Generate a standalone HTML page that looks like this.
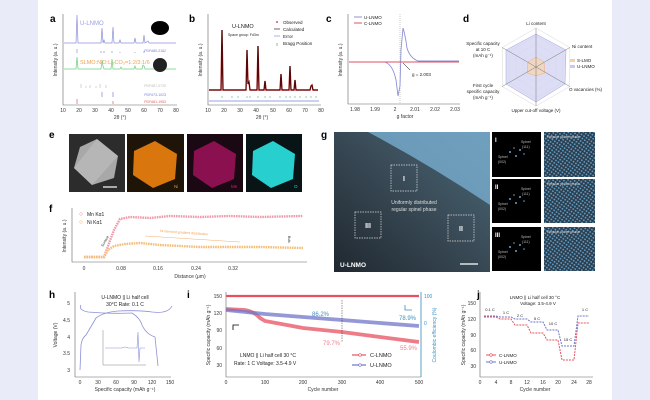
<!DOCTYPE html>
<html><head><meta charset="utf-8"><style>
body{margin:0;background:#e9ebf9;}
svg{display:block;font-family:"Liberation Sans",sans-serif;}
</style></head><body>
<svg width="650" height="400" viewBox="0 0 650 400" xmlns="http://www.w3.org/2000/svg">
<rect x="0" y="0" width="650" height="400" fill="#e9ebf9"/>
<rect x="38" y="0" width="574" height="400" fill="#fff"/>
<g font-weight="bold" font-size="10" fill="#000">
<text x="50" y="22">a</text><text x="189" y="22">b</text><text x="326" y="22">c</text><text x="463" y="22">d</text>
<text x="49" y="138">e</text><text x="49" y="212">f</text><text x="321" y="138">g</text>
<text x="49" y="298">h</text><text x="187" y="298">i</text><text x="477" y="298">j</text>
</g>
<!-- a -->
<g stroke="#666" stroke-width="0.6" fill="none"><path d="M63,14 V105 H177"/></g>
<g font-size="5" fill="#333" text-anchor="middle">
<text x="63" y="112">10</text><text x="79" y="112">20</text><text x="95" y="112">30</text><text x="111" y="112">40</text><text x="128" y="112">50</text><text x="144" y="112">60</text><text x="160" y="112">70</text><text x="176" y="112">80</text>
<text x="120" y="119">2θ (°)</text>
<text x="57" y="60" transform="rotate(-90 57 60)">Intensity (a. u.)</text>
</g>
<path d="M64,43 H76 L77,15 L78,43 H101 L102,28 L103,43 L104,40 L105,43 H112 L113,27 L114,43 H119 L120,40 L121,43 H134 L135,38 L136,43 H143 L144,35 L145,43 L148,41 L149,43 H176" stroke="#8c90d8" stroke-width="0.7" fill="none"/>
<text x="80" y="25" font-size="6" fill="#9aa0e0">U-LNMO</text>
<path d="M64,69 H76 L77,57 L78,69 H101 L102,60 L103,66 L104,69 H111 L112,59 L113,69 H120 L121,67 L122,69 H134 L135,66 L136,69 H142 L143,65 L144,66 L145,69 H176" stroke="#6cd07c" stroke-width="0.7" fill="none"/>
<text x="80" y="64" font-size="5.5" fill="#f0a050">SLMO:NiO:Li₂CO₃=1:2/3:1/6</text>
<ellipse cx="160" cy="28" rx="9" ry="7" fill="#000"/>
<ellipse cx="160" cy="65" rx="7" ry="7" fill="#222"/>
<g stroke="#7a80d0" stroke-width="0.6"><path d="M77,49V53M101,51V53M104,51V53M112,51V53M120,52V53M135,52V53M144,51V53"/></g>
<g stroke="#aaa" stroke-width="0.5"><path d="M81,84V88M86,86V88M90,85V88M96,86V88M100,84V88M106,85V88"/></g>
<g stroke="#7a80d0" stroke-width="0.7"><path d="M102,92V97M113,92V97"/></g>
<g stroke="#e06060" stroke-width="0.7"><path d="M77,99V104M113,101V104"/></g>
<g font-size="3.5" text-anchor="end"><text x="166" y="52" fill="#7a80d0">PDF#80-2162</text><text x="166" y="87" fill="#bbb">PDF#87-0729</text><text x="166" y="96" fill="#7a80d0">PDF#73-1023</text><text x="166" y="103" fill="#e06060">PDF#81-1953</text></g>
<!-- b -->
<g stroke="#666" stroke-width="0.6" fill="none"><path d="M208,14 V105 H321"/></g>
<g font-size="5" fill="#333" text-anchor="middle">
<text x="208" y="112">10</text><text x="224" y="112">20</text><text x="240" y="112">30</text><text x="256" y="112">40</text><text x="273" y="112">50</text><text x="289" y="112">60</text><text x="305" y="112">70</text><text x="321" y="112">80</text>
<text x="262" y="119">2θ (°)</text>
<text x="202" y="60" transform="rotate(-90 202 60)">Intensity (a. u.)</text>
</g>
<path d="M209,90 H221 L222,30 L223,90 H246 L247,50 L248,84 L249,82 L250,90 H257 L258,46 L259,90 H264 L265,81 L266,90 H280 L281,74 L282,90 H289 L290,66 L291,90 H294 L295,80 L296,90 H310 L311,86 L312,85 L313,90 H318" stroke="#b01010" stroke-width="1.4" fill="none"/>
<path d="M209,90 H221 L222,30 L223,90 H246 L247,50 L248,84 L249,82 L250,90 H257 L258,46 L259,90 H264 L265,81 L266,90 H280 L281,74 L282,90 H289 L290,66 L291,90 H294 L295,80 L296,90 H310 L311,86 L312,85 L313,90 H318" stroke="#000" stroke-width="0.5" fill="none"/>
<path d="M209,101 H319" stroke="#7080e0" stroke-width="0.8"/>
<g stroke="#30a040" stroke-width="0.5"><path d="M222,96V98M232,96V98M238,96V98M247,96V98M250,96V98M258,96V98M265,96V98M270,96V98M280,96V98M286,96V98M290,96V98M295,96V98M300,96V98M306,96V98M311,96V98M316,96V98"/></g>
<text x="232" y="28" font-size="5.5" fill="#222">U-LNMO</text>
<text x="228" y="36" font-size="3.5" fill="#222">Space group: Fd3m</text>
<g font-size="4.5" fill="#222"><circle cx="277" cy="22" r="0.9" fill="#d02020"/><text x="283" y="24">Observed</text>
<path d="M274,29H280" stroke="#000" stroke-width="0.6"/><text x="283" y="31">Calculated</text>
<path d="M274,36H280" stroke="#7080e0" stroke-width="0.6"/><text x="283" y="38">Error</text>
<path d="M277,43V46" stroke="#30a040" stroke-width="0.6"/><text x="283" y="45">Bragg Position</text></g>
<!-- c -->
<g stroke="#666" stroke-width="0.6" fill="none"><path d="M348,14 V104 H460"/></g>
<g font-size="5" fill="#333" text-anchor="middle">
<text x="355" y="111">1.98</text><text x="375" y="111">1.99</text><text x="395" y="111">2</text><text x="415" y="111">2.01</text><text x="435" y="111">2.02</text><text x="455" y="111">2.03</text>
<text x="405" y="118">g factor</text>
<text x="342" y="60" transform="rotate(-90 342 60)">Intensity (a. u.)</text>
</g>
<path d="M400,14V104" stroke="#999" stroke-width="0.5" stroke-dasharray="1,1"/>
<path d="M349,62 H385 Q393,65 396,80 L398,96 L400,86 L401,50 L403,28 Q405,34 407,48 Q410,58 418,61 H459" stroke="#8c90d8" stroke-width="0.9" fill="none"/>
<path d="M349,62 H459" stroke="#e05060" stroke-width="0.9"/>
<path d="M403,63 L410,70" stroke="#000" stroke-width="0.5"/>
<text x="412" y="76" font-size="4.5" fill="#222">g = 2.003</text>
<g font-size="4.5" fill="#222"><path d="M354,17H362" stroke="#8c90d8" stroke-width="1"/><text x="364" y="19">U-LNMO</text>
<path d="M354,23H362" stroke="#e05060" stroke-width="1"/><text x="364" y="25">C-LNMO</text></g>
<!-- d radar -->
<g transform="translate(536,67)">
<g fill="none" stroke="#ccc" stroke-width="0.4">
<polygon points="0,-39 33.8,-19.5 33.8,19.5 0,39 -33.8,19.5 -33.8,-19.5"/>
<polygon points="0,-31 26.8,-15.5 26.8,15.5 0,31 -26.8,15.5 -26.8,-15.5"/>
<polygon points="0,-23 19.9,-11.5 19.9,11.5 0,23 -19.9,11.5 -19.9,-11.5"/>
<polygon points="0,-15 13,-7.5 13,7.5 0,15 -13,7.5 -13,-7.5"/>
</g>
<polygon points="0,-33 30,-17 29,17 0,35 -30,17 -30,-17" fill="#d4d6f2" fill-opacity="0.8" stroke="#a0a5dc" stroke-width="0.5"/>
<polygon points="0,-10 8,-5 9,6 0,9 -9,6 -8,-5" fill="#f5d5b5" fill-opacity="0.8" stroke="#f0a060" stroke-width="0.4"/>
<g stroke="#777" stroke-width="0.5"><path d="M0,-39V39M-33.8,-19.5L33.8,19.5M-33.8,19.5L33.8,-19.5"/></g>
</g>
<g font-size="4.5" fill="#222" text-anchor="middle">
<text x="536" y="25">Li content</text>
<text x="572" y="48" text-anchor="start">Ni content</text>
<text x="569" y="91" text-anchor="start">O vacancies (%)</text>
<text x="536" y="112">Upper cut-off voltage (V)</text>
<text x="483" y="45">Specific capacity</text><text x="483" y="51">at 10 C</text><text x="483" y="57">(mAh g⁻¹)</text>
<text x="483" y="87">First cycle</text><text x="483" y="93">specific capacity</text><text x="483" y="99">(mAh g⁻¹)</text>
</g>
<rect x="570" y="59" width="5" height="3" fill="#f5cfa8"/><text x="577" y="62" font-size="4.5" fill="#222">S-LMO</text>
<rect x="570" y="65" width="5" height="3" fill="#c7c9ee"/><text x="577" y="68" font-size="4.5" fill="#222">U-LNMO</text>
<!-- e -->
<rect x="69" y="134" width="56" height="58" fill="#2c2c2c"/>
<polygon points="97,139 118,156 114,178 92,185 74,168 80,147" fill="#a8a8a8"/>
<polygon points="97,139 118,156 92,185 74,168" fill="#c0c0c0" fill-opacity="0.6"/>
<path d="M103,187H117" stroke="#fff" stroke-width="1.2"/>
<rect x="127" y="134" width="57" height="58" fill="#1e1408"/>
<polygon points="155,141 177,154 175,179 153,188 133,175 134,151" fill="#d9760e"/>
<text x="174" y="188" font-size="4.5" fill="#e8902a">Ni</text>
<rect x="187" y="134" width="56" height="58" fill="#1a0812"/>
<polygon points="214,141 236,154 234,179 212,188 193,175 194,151" fill="#8a1050"/>
<text x="231" y="188" font-size="4.5" fill="#d02080">Mn</text>
<rect x="246" y="134" width="56" height="58" fill="#081416"/>
<polygon points="273,141 295,154 293,179 271,188 252,175 253,151" fill="#28cfcf"/>
<text x="294" y="188" font-size="4.5" fill="#20d0d0">O</text>
<!-- f -->
<g stroke="#666" stroke-width="0.6" fill="none"><path d="M72,208 V262 H307"/></g>
<g font-size="5" fill="#333" text-anchor="middle">
<text x="84" y="270">0</text><text x="121" y="270">0.08</text><text x="158" y="270">0.16</text><text x="196" y="270">0.24</text><text x="233" y="270">0.32</text>
<text x="190" y="278">Distance (μm)</text>
<text x="66" y="236" transform="rotate(-90 66 236)">Intensity (a. u.)</text>
</g>
<path d="M84,257 H104 L108,246 L114,230 L120,219 L130,217 L150,218 L170,216 L200,217 L230,216 L260,217 L303,216" stroke="#f09aa8" stroke-width="2.4" fill="none" stroke-dasharray="1.6,0.8"/>
<path d="M84,257 H104 L108,250 L114,246 L125,244 L140,243 L160,245 L180,246 L200,247 L230,247 L260,247 L303,248" stroke="#f5be78" stroke-width="2.4" fill="none" stroke-dasharray="1.6,0.8"/>
<circle cx="81" cy="214" r="1.3" fill="none" stroke="#f09aa8" stroke-width="0.5"/><text x="87" y="216" font-size="5" fill="#222">Mn Kα1</text>
<circle cx="81" cy="222" r="1.3" fill="none" stroke="#f5be78" stroke-width="0.5"/><text x="87" y="224" font-size="5" fill="#222">Ni Kα1</text>
<path d="M145,236 L240,242" stroke="#f0b070" stroke-width="0.6"/>
<text x="160" y="232" font-size="3.5" fill="#f0a050" transform="rotate(4 160 232)">Ni element gradient distribution</text>
<text x="103" y="247" font-size="3.5" fill="#333" transform="rotate(-60 103 247)">Surface</text>
<text x="288" y="236" font-size="3.5" fill="#333" transform="rotate(90 288 236)">Bulk</text>
<!-- g -->
<defs>
<linearGradient id="tem" x1="0" y1="1" x2="1" y2="0"><stop offset="0" stop-color="#202830"/><stop offset="0.55" stop-color="#3a4c58"/><stop offset="1" stop-color="#4a6878"/></linearGradient>
<pattern id="lat" width="3" height="3" patternUnits="userSpaceOnUse" patternTransform="rotate(35)"><rect width="3" height="3" fill="#2a3c4c"/><circle cx="1.5" cy="1.5" r="0.9" fill="#6aa8d0"/></pattern>
</defs>
<rect x="334" y="132" width="156" height="140" fill="url(#tem)"/>
<path d="M368,132 Q430,165 490,205 V132 Z" fill="#78aed0" fill-opacity="0.8"/>
<g fill="none" stroke="#ddd" stroke-width="0.7" stroke-dasharray="1.5,1"><rect x="391" y="165" width="26" height="26"/><rect x="448" y="215" width="26" height="26"/><rect x="355" y="212" width="26" height="26"/></g>
<g font-size="7" font-weight="bold" fill="#fff" text-anchor="middle"><text x="404" y="181">I</text><text x="461" y="231">II</text><text x="368" y="228">III</text></g>
<text x="414" y="204" font-size="5" fill="#ddd" text-anchor="middle">Uniformly distributed</text>
<text x="414" y="211" font-size="5" fill="#ddd" text-anchor="middle">regular spinel phase</text>
<text x="340" y="267" font-size="6.5" font-weight="bold" fill="#fff">U-LNMO</text>
<path d="M460,264H478" stroke="#fff" stroke-width="1.2"/>
<g font-size="3.5" fill="#bbb">
<rect x="492" y="132" width="49" height="45" fill="#000"/><rect x="492" y="179" width="49" height="44" fill="#000"/><rect x="492" y="227" width="49" height="44" fill="#000"/>
<text x="495" y="142" font-size="6" font-weight="bold" fill="#fff">I</text><text x="495" y="189" font-size="6" font-weight="bold" fill="#fff">II</text><text x="495" y="237" font-size="6" font-weight="bold" fill="#fff">III</text>
<text x="521" y="143">Spinel</text><text x="522" y="148">(111)</text><text x="498" y="158">Spinel</text><text x="498" y="163">(002)</text>
<text x="521" y="190">Spinel</text><text x="522" y="195">(111)</text><text x="498" y="205">Spinel</text><text x="498" y="210">(002)</text>
<text x="521" y="238">Spinel</text><text x="522" y="243">(111)</text><text x="498" y="253">Spinel</text><text x="498" y="258">(002)</text>
</g>
<g fill="#6aa0d0"><circle cx="510" cy="152" r="1"/><circle cx="516" cy="156" r="1"/><circle cx="520" cy="150" r="1"/><circle cx="514" cy="148" r="0.8"/><circle cx="524" cy="154" r="0.8"/>
<circle cx="510" cy="199" r="1"/><circle cx="516" cy="203" r="1"/><circle cx="520" cy="197" r="1"/><circle cx="514" cy="195" r="0.8"/><circle cx="524" cy="201" r="0.8"/>
<circle cx="510" cy="247" r="1"/><circle cx="516" cy="251" r="1"/><circle cx="520" cy="245" r="1"/><circle cx="514" cy="243" r="0.8"/><circle cx="524" cy="249" r="0.8"/></g>
<rect x="544" y="132" width="51" height="45" fill="url(#lat)"/><rect x="544" y="179" width="51" height="44" fill="url(#lat)"/><rect x="544" y="227" width="51" height="44" fill="url(#lat)"/>
<g font-size="3.5" fill="#ddd"><text x="547" y="138">Regular spinel phase</text><text x="547" y="185">Regular spinel phase</text><text x="547" y="233">Regular spinel phase</text></g>
<!-- h -->
<g stroke="#666" stroke-width="0.6" fill="none"><path d="M75,292 V377 H171"/></g>
<g font-size="5" fill="#333" text-anchor="middle">
<text x="80" y="384">0</text><text x="98" y="384">30</text><text x="116" y="384">60</text><text x="134" y="384">90</text><text x="152" y="384">120</text><text x="170" y="384">150</text>
<text x="125" y="391">Specific capacity (mAh g⁻¹)</text>
<text x="70" y="372" text-anchor="end">3</text><text x="70" y="355" text-anchor="end">3.5</text><text x="70" y="339" text-anchor="end">4</text><text x="70" y="322" text-anchor="end">4.5</text><text x="70" y="305" text-anchor="end">5</text>
<text x="57" y="335" transform="rotate(-90 57 335)">Voltage (V)</text>
</g>
<path d="M80,370 L81,345 Q82,338 86,335 Q92,325 96,318 Q104,312 118,311 Q140,310 152,312 Q168,314 172,306" stroke="#8c90d8" stroke-width="0.8" fill="none"/>
<path d="M81,305 Q78,310 88,312 Q110,314 132,313 Q140,318 142,325 Q146,334 155,337 L158,366" stroke="#8c90d8" stroke-width="0.8" fill="none"/>
<text x="125" y="299" font-size="5" fill="#222" text-anchor="middle">U-LNMO || Li half cell</text>
<text x="125" y="306" font-size="5" fill="#222" text-anchor="middle">30°C   Rate: 0.1 C</text>
<g stroke="#666" stroke-width="0.4" fill="none"><path d="M103,330V365H146"/></g>
<path d="M105,348H122 Q125,346 128,348 H137 L138,332 L139,362 L140,348 H145" stroke="#8c90d8" stroke-width="0.6" fill="none"/>
<!-- i -->
<g stroke="#666" stroke-width="0.6" fill="none"><path d="M226,292 V377 H421 V292"/></g>
<path d="M421,292V377" stroke="#4aa0d0" stroke-width="0.8"/>
<g font-size="5" fill="#333" text-anchor="middle">
<text x="226" y="384">0</text><text x="265" y="384">100</text><text x="303" y="384">200</text><text x="342" y="384">300</text><text x="380" y="384">400</text><text x="419" y="384">500</text>
<text x="323" y="391">Cycle number</text>
<text x="222" y="298" text-anchor="end">150</text><text x="222" y="315" text-anchor="end">120</text><text x="222" y="332" text-anchor="end">90</text><text x="222" y="350" text-anchor="end">60</text><text x="222" y="367" text-anchor="end">30</text>
<text x="210" y="335" transform="rotate(-90 210 335)">Specific capacity (mAh g⁻¹)</text>
</g>
<g font-size="5" fill="#3a90c0"><text x="424" y="298">100</text><text x="424" y="325">0</text>
<text x="436" y="335" text-anchor="middle" transform="rotate(-90 436 335)">Coulombic efficiency (%)</text></g>
<path d="M226,296H419" stroke="#e85060" stroke-width="2.2"/>
<path d="M226,309 L245,310 Q255,312 260,318 L265,321 L303,328 L342,332 L380,337 L419,342" stroke="#e85060" stroke-opacity="0.75" stroke-width="3.8" fill="none"/>
<path d="M226,310 L265,314 L303,317 L342,320 L380,323 L419,326" stroke="#7076c8" stroke-opacity="0.75" stroke-width="3.8" fill="none"/>
<path d="M342,300V342" stroke="#333" stroke-width="0.5" stroke-dasharray="1.5,1"/>
<g font-size="6"><text x="312" y="316" fill="#3a90c0">86.2%</text><text x="399" y="320" fill="#3a90c0">78.9%</text><text x="323" y="345" fill="#f08090">79.7%</text><text x="400" y="350" fill="#f08090">55.9%</text></g>
<path d="M239,325H233V330" stroke="#000" stroke-width="0.8" fill="none"/>
<path d="M405,305V310H412" stroke="#3a90c0" stroke-width="0.8" fill="none"/>
<g font-size="5" fill="#222"><text x="240" y="357">LNMO || Li half cell   30 °C</text><text x="234" y="365">Rate: 1 C     Voltage: 3.5-4.9 V</text></g>
<path d="M352,355H366" stroke="#e85060" stroke-width="1.2"/><circle cx="360" cy="355" r="1.3" fill="#fff" stroke="#e85060" stroke-width="0.6"/><text x="370" y="357" font-size="5.5" fill="#222">C-LNMO</text>
<path d="M352,365H366" stroke="#7076c8" stroke-width="1.2"/><circle cx="360" cy="365" r="1.3" fill="#fff" stroke="#7076c8" stroke-width="0.6"/><text x="370" y="367" font-size="5.5" fill="#222">U-LNMO</text>
<!-- j -->
<g stroke="#666" stroke-width="0.6" fill="none"><path d="M480,292 V377 H593"/></g>
<g font-size="5" fill="#333" text-anchor="middle">
<text x="480" y="384">0</text><text x="496" y="384">4</text><text x="511" y="384">8</text><text x="527" y="384">12</text><text x="543" y="384">16</text><text x="558" y="384">20</text><text x="574" y="384">24</text><text x="589" y="384">28</text>
<text x="535" y="391">Cycle number</text>
<text x="476" y="305" text-anchor="end">150</text><text x="476" y="321" text-anchor="end">120</text><text x="476" y="337" text-anchor="end">90</text><text x="476" y="352" text-anchor="end">60</text><text x="476" y="368" text-anchor="end">30</text>
<text x="465" y="335" transform="rotate(-90 465 335)">Specific capacity (mAh g⁻¹)</text>
</g>
<polyline points="484,317 496,317 500,319 511,319 515,325 527,325 531,333 543,333 547,340 558,340 562,360 574,360 578,323 589,323" stroke="#e85060" stroke-width="1" fill="none" stroke-dasharray="2,1"/>
<polyline points="484,316 496,316 500,317 511,317 515,319 527,319 531,322 543,322 547,330 558,330 562,346 574,346 578,316 589,316" stroke="#7076c8" stroke-width="1" fill="none" stroke-dasharray="2,1"/>
<g font-size="4" fill="#222" text-anchor="middle"><text x="490" y="311">0.1 C</text><text x="506" y="314">1 C</text><text x="520" y="317">2 C</text><text x="537" y="320">5 C</text><text x="553" y="325">10 C</text><text x="568" y="341">15 C</text><text x="585" y="311">1 C</text></g>
<g font-size="4.5" fill="#222" text-anchor="middle"><text x="535" y="299">LNMO || Li half cell   30 °C</text><text x="538" y="305">Voltage: 3.5-4.9 V</text></g>
<path d="M486,355H496" stroke="#e85060" stroke-width="1"/><circle cx="491" cy="355" r="1.3" fill="#fff" stroke="#e85060" stroke-width="0.6"/><text x="499" y="357" font-size="4.5" fill="#222">C-LNMO</text>
<path d="M486,362H496" stroke="#7076c8" stroke-width="1"/><circle cx="491" cy="362" r="1.3" fill="#fff" stroke="#7076c8" stroke-width="0.6"/><text x="499" y="364" font-size="4.5" fill="#222">U-LNMO</text>
</svg>
</body></html>
